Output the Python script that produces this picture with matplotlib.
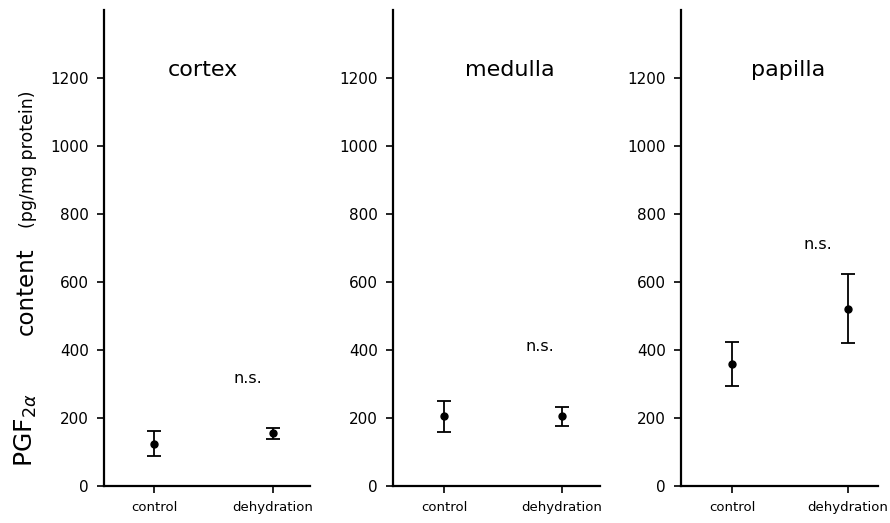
import matplotlib
matplotlib.use("Agg")
import matplotlib.pyplot as plt

# PGF2a content (pg/mg protein), mean and error, per kidney region
groups = ['control', 'dehydration']
regions = ['cortex', 'medulla', 'papilla']
means = {'cortex': [125, 155], 'medulla': [205, 205], 'papilla': [360, 522]}
errors = {'cortex': [38, 17], 'medulla': [45, 28], 'papilla': [65, 102]}
yticks = [0, 200, 400, 600, 800, 1000, 1200]

# n.s. label positions (x in group units, y in data units)
ns_pos = {'cortex': (0.79, 315), 'medulla': (0.81, 409), 'papilla': (0.74, 709)}
title_x = {'cortex': 0.41, 'medulla': 0.56, 'papilla': 0.48}

plt.rcParams['font.family'] = ['DejaVu Sans']

W, H = 890, 523
fig = plt.figure(figsize=(W / 100, H / 100), dpi=100)

# axes boxes in pixels: left, right (x-axis end)
boxes = [(104, 310), (393, 600), (681, 878)]
ctrl_px = [154, 444, 732]
deh_px = [273, 562, 848]
y0_px, ytop_px = 486, 10

for i, reg in enumerate(regions):
    l, r = boxes[i]
    ax = fig.add_axes([l / W, (H - y0_px) / H, (r - l) / W, (y0_px - ytop_px) / H])
    unit = deh_px[i] - ctrl_px[i]
    ax.set_xlim((l - ctrl_px[i]) / unit, 1 + (r - deh_px[i]) / unit)
    ax.set_ylim(0, 1400)

    ax.errorbar([0, 1], means[reg], yerr=errors[reg], fmt='o', color='black',
                markersize=5, elinewidth=1.3, capsize=5, capthick=1.3)

    for s in ['top', 'right']:
        ax.spines[s].set_visible(False)
    for s in ['left', 'bottom']:
        ax.spines[s].set_linewidth(1.6)

    ax.set_xticks([0, 1])
    ax.set_xticklabels(groups, fontsize=9.5)
    ax.set_yticks(yticks)
    ax.set_yticklabels([str(v) for v in yticks], fontsize=11)
    ax.tick_params(axis='both', direction='out', length=5, width=1.2, pad=6)

    ax.text(title_x[reg], 1224, reg, fontsize=16, ha='center', va='center')
    ax.text(ns_pos[reg][0], ns_pos[reg][1], 'n.s.', fontsize=11.5, ha='center', va='center')

# y-axis label in three sizes
fig.text(33 / W, (H - 467) / H, r'PGF$_{2\alpha}$', fontsize=18, rotation=90,
         rotation_mode='anchor', ha='left', va='baseline')
fig.text(33 / W, (H - 335) / H, 'content', fontsize=16.5, rotation=90,
         rotation_mode='anchor', ha='left', va='baseline')
fig.text(33 / W, (H - 228) / H, '(pg/mg protein)', fontsize=12.5, rotation=90,
         rotation_mode='anchor', ha='left', va='baseline')

fig.savefig('out.png', dpi=100)
